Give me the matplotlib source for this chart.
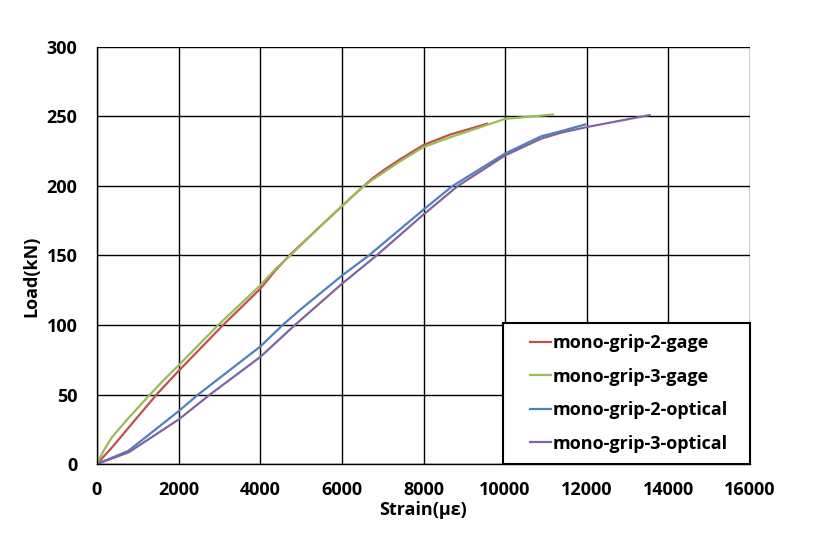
import matplotlib
matplotlib.use("Agg")
import matplotlib.pyplot as plt
from matplotlib.legend_handler import HandlerLine2D

plt.rcParams['font.family'] = ['Open Sans', 'DejaVu Sans']
plt.rcParams['font.weight'] = 'bold'

# values (strain in microstrain, load in kN)
gage2_strain = [0, 400, 770, 1460, 1790, 2000, 3090, 4000, 4380, 4730, 5400, 6000, 6460, 6750, 7030, 7440, 8000, 8650, 9560]
gage2_load = [0, 13, 26, 50, 60.4, 67, 100, 126, 139.5, 150.5, 169, 185.5, 198, 205.5, 211.5, 219.5, 229.5, 237, 244.8]

gage3_strain = [0, 150, 360, 770, 1300, 1620, 2000, 2970, 4000, 4380, 4770, 5400, 6000, 6460, 6750, 7030, 7440, 8000, 8650, 10000, 11170]
gage3_load = [0, 9, 19, 33, 50, 60, 71, 100, 128.5, 140.5, 151, 169, 185.5, 198, 204.5, 210, 218, 228, 235, 248.3, 251.4]

opt2_strain = [0, 770, 2000, 2480, 4000, 4550, 4980, 6000, 6660, 8000, 8710, 10000, 10880, 11380, 11960]
opt2_load = [0, 9.5, 38, 50, 84.5, 100, 111, 135.5, 150, 183, 200, 223.4, 235.7, 239.5, 244.3]

opt3_strain = [0, 770, 2000, 2770, 4000, 4850, 6000, 6850, 8000, 8840, 10000, 10880, 11380, 12000, 13540]
opt3_load = [0, 8.3, 32, 50, 77, 100, 129.6, 150, 179.5, 200, 222, 234, 238.4, 242.4, 251]

series = [
    (gage2_strain, gage2_load, 'mono-grip-2-gage', '#C0504D'),
    (gage3_strain, gage3_load, 'mono-grip-3-gage', '#9BBB59'),
    (opt2_strain, opt2_load, 'mono-grip-2-optical', '#4F81BD'),
    (opt3_strain, opt3_load, 'mono-grip-3-optical', '#8064A2'),
]

fig = plt.figure(figsize=(8.26, 5.44), dpi=100)
ax = fig.add_axes([97 / 826, 80 / 544, 653 / 826, 417 / 544])

for x, y, lab, col in series:
    ax.plot(x, y, color=col, lw=1.6, label=lab)

ax.set_xlim(0, 16000)
ax.set_ylim(0, 300)
ax.set_xticks(range(0, 16001, 2000))
ax.set_yticks(range(0, 301, 50))
ax.grid(True, color='black', lw=1.0)
ax.set_axisbelow(True)
ax.tick_params(length=0, labelsize=13)
ax.tick_params(axis='x', pad=12)
ax.tick_params(axis='y', pad=14)
for lbl in ax.get_xticklabels() + ax.get_yticklabels():
    lbl.set_fontweight('bold')
for s in ['top', 'right']:
    ax.spines[s].set_visible(False)
for s in ['left', 'bottom']:
    ax.spines[s].set_color('black')
    ax.spines[s].set_linewidth(1.0)

ax.set_xlabel('Strain(με)', fontsize=13, fontweight='bold', labelpad=2)
ax.set_ylabel('Load(kN)', fontsize=13, fontweight='bold')
ax.yaxis.set_label_coords(-0.086, 0.451)

# legend box spans from x=503px to the right edge of the plot
leg = ax.legend(loc='lower left', bbox_to_anchor=(406 / 653, 0.0, 247 / 653, 0.3),
                mode='expand', fontsize=13,
                frameon=True, fancybox=False, edgecolor='black', framealpha=1,
                handlelength=2.04, handletextpad=0.1, labelspacing=0.86,
                borderpad=0.63, borderaxespad=0,
                handler_map={plt.Line2D: HandlerLine2D(xpad=0.87)})
leg.get_frame().set_linewidth(1.5)
for t in leg.get_texts():
    t.set_fontweight('bold')

fig.savefig('out.png', dpi=100)
